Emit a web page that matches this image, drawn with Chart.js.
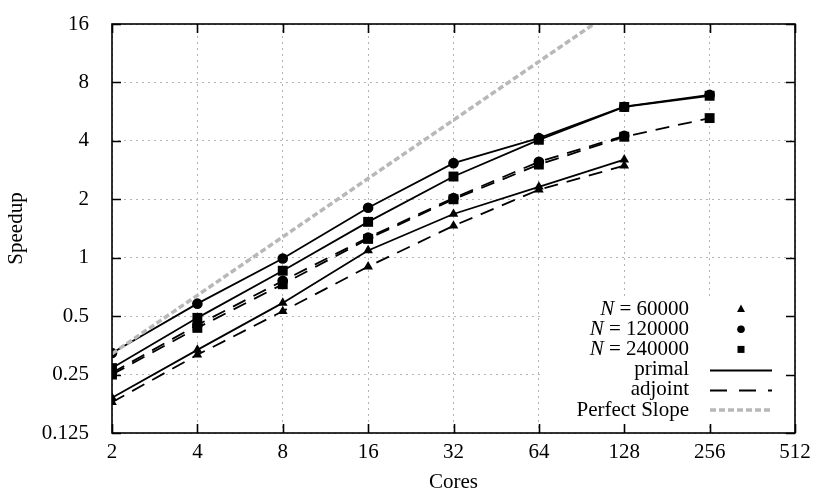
<!DOCTYPE html>
<html lang="en">
<head>
<meta charset="UTF-8">
<title>Speedup</title>
<script src="https://cdn.jsdelivr.net/npm/chart.js"></script>
<style>
  body { margin: 0; background: #fff; }
</style>
</head>
<body>
<canvas id="speedupChart" width="831" height="497"></canvas>
<script>
// data
const cores = [2, 4, 8, 16, 32, 64, 128, 256];
const xTicks = [2, 4, 8, 16, 32, 64, 128, 256, 512];
const yTicks = [0.125, 0.25, 0.5, 1, 2, 4, 8, 16];

const n60Primal = [0.19, 0.335, 0.585, 1.09, 1.68, 2.32, 3.2];
const n60Adjoint = [0.18, 0.316, 0.53, 0.90, 1.46, 2.24, 2.98];
const n120Primal = [0.323, 0.58, 0.99, 1.81, 3.07, 4.13, 6.0, 6.9];
const n120Adjoint = [0.255, 0.45, 0.76, 1.27, 2.03, 3.12, 4.25];
const n240Primal = [0.27, 0.49, 0.857, 1.53, 2.62, 4.05, 5.98, 6.83];
const n240Adjoint = [0.25, 0.435, 0.73, 1.25, 2.0, 3.02, 4.2, 5.24];
const perfectSlope = [0.32, 0.64, 1.28, 2.56, 5.12, 10.24, 20.48];

const FONT = 'Liberation Serif';
const FSIZE = 21;
const DASH = [14, 9];

function pts(vals) {
    return vals.map((v, i) => ({ x: cores[i], y: v }));
}

function series(vals, style, dashed) {
    let r = 5.3;
    if (style === 'rect') r = 7;
    if (style === 'triangle') r = 5.6;
    return {
        data: pts(vals),
        borderColor: '#000',
        backgroundColor: '#000',
        borderWidth: 1.8,
        borderDash: dashed ? DASH : [],
        pointStyle: style,
        pointRadius: r,
        pointBorderWidth: 0,
        tension: 0
    };
}

// frame, inward ticks on all sides and the key
const framePlugin = {
    id: 'frame',
    beforeDatasetsDraw(chart) {
        const ctx = chart.ctx;
        const a = chart.chartArea;
        ctx.save();
        ctx.fillStyle = '#fff';
        ctx.fillRect(541, 297, a.right - 541, 125);
        ctx.restore();
    },
    afterDraw(chart) {
        const ctx = chart.ctx;
        const a = chart.chartArea;
        const xs = chart.scales.x, ys = chart.scales.y;
        ctx.save();
        ctx.strokeStyle = '#000';
        ctx.lineWidth = 1.6;
        ctx.strokeRect(a.left, a.top, a.right - a.left, a.bottom - a.top);
        ctx.beginPath();
        xTicks.forEach(t => {
            const px = Math.round(xs.getPixelForValue(t)) + 0.5;
            ctx.moveTo(px, a.bottom); ctx.lineTo(px, a.bottom - 9);
            ctx.moveTo(px, a.top); ctx.lineTo(px, a.top + 9);
        });
        yTicks.forEach(t => {
            const py = Math.round(ys.getPixelForValue(t)) + 0.5;
            ctx.moveTo(a.left, py); ctx.lineTo(a.left + 9, py);
            ctx.moveTo(a.right, py); ctx.lineTo(a.right - 9, py);
        });
        ctx.stroke();

        // key
        const textRight = 689;
        const y0 = 309, step = 20.2;
        const sx0 = 710, sx1 = 772, mx = 741;
        const f = FSIZE + 'px "' + FONT + '"';
        ctx.fillStyle = '#000';
        ctx.textBaseline = 'middle';
        ctx.textAlign = 'right';
        const nLabels = ['60000', '120000', '240000'];
        nLabels.forEach((n, i) => {
            const y = y0 + i * step;
            ctx.font = f;
            const rest = ' = ' + n;
            ctx.fillText(rest, textRight, y);
            const w = ctx.measureText(rest).width;
            ctx.font = 'italic ' + f;
            ctx.fillText('N', textRight - w, y);
        });
        ctx.font = f;
        ctx.fillText('primal', textRight, y0 + 3 * step);
        ctx.fillText('adjoint', textRight, y0 + 4 * step);
        ctx.fillText('Perfect Slope', textRight, y0 + 5 * step);

        // key markers
        let y = y0;
        ctx.beginPath();
        ctx.moveTo(mx, y - 4.5); ctx.lineTo(mx + 4, y + 3); ctx.lineTo(mx - 4, y + 3);
        ctx.closePath(); ctx.fill();
        y = y0 + step;
        ctx.beginPath(); ctx.arc(mx, y, 3.8, 0, Math.PI * 2); ctx.fill();
        y = y0 + 2 * step;
        ctx.fillRect(mx - 3.5, y - 3.5, 7, 7);

        // key lines
        ctx.lineWidth = 1.8;
        ctx.setLineDash([]);
        y = Math.round(y0 + 3 * step) + 0.5;
        ctx.beginPath(); ctx.moveTo(sx0, y); ctx.lineTo(sx1, y); ctx.stroke();
        ctx.setLineDash([17, 12]);
        y = Math.round(y0 + 4 * step) + 0.5;
        ctx.beginPath(); ctx.moveTo(sx0, y); ctx.lineTo(sx1, y); ctx.stroke();
        ctx.setLineDash([6, 3]);
        ctx.strokeStyle = '#b8b8b8';
        ctx.lineWidth = 3.5;
        y = Math.round(y0 + 5 * step);
        ctx.beginPath(); ctx.moveTo(sx0, y); ctx.lineTo(sx1, y); ctx.stroke();
        ctx.restore();
    }
};

const ctx = document.getElementById('speedupChart').getContext('2d');
new Chart(ctx, {
    type: 'line',
    data: {
        datasets: [
            {
                data: pts(perfectSlope),
                borderColor: '#b8b8b8',
                borderWidth: 3.5,
                borderDash: [6, 3],
                pointRadius: 0,
                tension: 0
            },
            series(n60Primal, 'triangle', false),
            series(n60Adjoint, 'triangle', true),
            series(n120Primal, 'circle', false),
            series(n120Adjoint, 'circle', true),
            series(n240Primal, 'rect', false),
            series(n240Adjoint, 'rect', true)
        ]
    },
    options: {
        responsive: false,
        animation: false,
        devicePixelRatio: 1,
        layout: { padding: { left: 0, right: 36, top: 24, bottom: 0 } },
        plugins: { legend: { display: false }, tooltip: { enabled: false } },
        scales: {
            x: {
                type: 'logarithmic',
                min: 2,
                max: 512,
                afterFit: s => { s.height = 64; s.paddingLeft = 0; s.paddingRight = 0; },
                afterBuildTicks: s => { s.ticks = xTicks.map(v => ({ value: v })); },
                grid: { color: '#b4b4b4', lineWidth: 1, drawTicks: false },
                border: { display: false, dash: [2, 4] },
                ticks: {
                    color: '#000',
                    padding: 7,
                    maxRotation: 0,
                    font: { family: FONT, size: FSIZE },
                    callback: v => String(v)
                },
                title: {
                    display: true,
                    text: 'Cores',
                    color: '#000',
                    padding: { top: 0, bottom: 2 },
                    font: { family: FONT, size: FSIZE }
                }
            },
            y: {
                type: 'logarithmic',
                min: 0.125,
                max: 16,
                afterFit: s => { s.width = 112; s.paddingTop = 0; s.paddingBottom = 0; },
                afterBuildTicks: s => { s.ticks = yTicks.map(v => ({ value: v })); },
                grid: { color: '#b4b4b4', lineWidth: 1, drawTicks: false },
                border: { display: false, dash: [2, 4] },
                ticks: {
                    color: '#000',
                    padding: 23,
                    font: { family: FONT, size: FSIZE },
                    callback: v => String(v)
                },
                title: {
                    display: true,
                    text: 'Speedup',
                    color: '#000',
                    padding: { top: 4, bottom: 0 },
                    font: { family: FONT, size: FSIZE }
                }
            }
        }
    },
    plugins: [framePlugin]
});
</script>
</body>
</html>
